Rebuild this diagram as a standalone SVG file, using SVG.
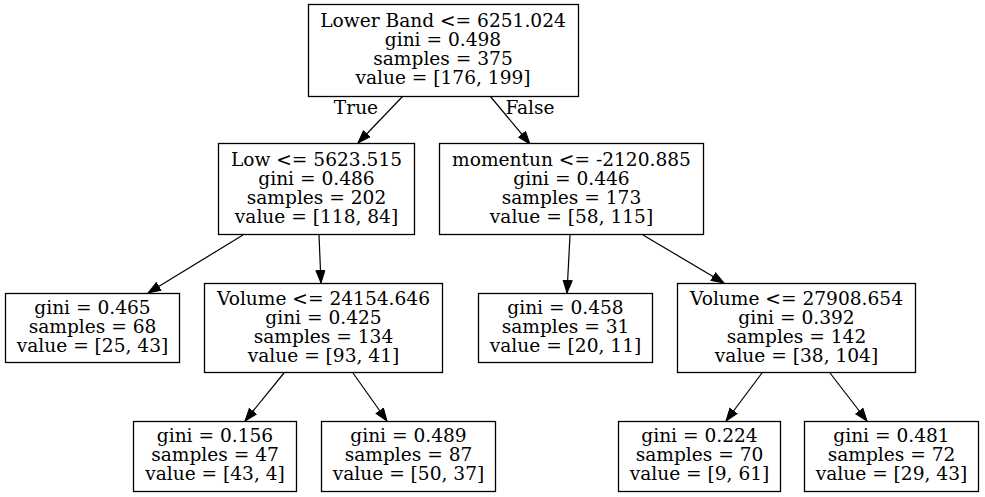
<svg xmlns="http://www.w3.org/2000/svg" width="985" height="497" viewBox="0 0 985 497">
<defs>
<marker id="ah" markerUnits="userSpaceOnUse" markerWidth="14" markerHeight="11" refX="13" refY="5" orient="auto"><path d="M0.5,0.5 L13,5 L0.5,9.5 z" fill="#000" stroke="#000" stroke-width="1"/></marker>
</defs>
<style>
rect{fill:#fff;stroke:#000;stroke-width:1.3}
text{font-family:"DejaVu Serif",serif;font-size:18.6px;text-anchor:middle;fill:#000}
.e line{stroke:#000;stroke-width:1.2;marker-end:url(#ah)}
</style>
<rect x="0" y="0" width="985" height="497" style="stroke:none"/>
<g class="e" id="edges">
<line x1="403" y1="96" x2="358" y2="143"/>
<line x1="490" y1="96" x2="530" y2="144"/>
<line x1="243" y1="235" x2="148" y2="293"/>
<line x1="319" y1="235" x2="321" y2="283"/>
<line x1="570" y1="235" x2="567" y2="293"/>
<line x1="643" y1="235" x2="724" y2="283"/>
<line x1="284" y1="373" x2="245" y2="421"/>
<line x1="353" y1="373" x2="387" y2="421"/>
<line x1="762" y1="373" x2="726" y2="421"/>
<line x1="830" y1="373" x2="867" y2="421"/>
<text x="356" y="114">True</text>
<text x="530" y="114">False</text>
</g>
<g id="n0"><rect x="308.5" y="4.5" width="270" height="92"/><text x="443" y="26.5">Lower Band &lt;= 6251.024</text><text x="443" y="45.5">gini = 0.498</text><text x="443" y="64.5">samples = 375</text><text x="443" y="83.5">value = [176, 199]</text></g>
<g id="n1"><rect x="218.5" y="143.5" width="196" height="91"/><text x="316.5" y="166">Low &lt;= 5623.515</text><text x="316.5" y="185">gini = 0.486</text><text x="316.5" y="204">samples = 202</text><text x="316.5" y="223">value = [118, 84]</text></g>
<g id="n6"><rect x="439.5" y="143.5" width="264" height="91"/><text x="571.5" y="166">momentun &lt;= -2120.885</text><text x="571.5" y="185">gini = 0.446</text><text x="571.5" y="204">samples = 173</text><text x="571.5" y="223">value = [58, 115]</text></g>
<g id="n2"><rect x="5.5" y="293.5" width="174" height="69"/><text x="92.5" y="313.5">gini = 0.465</text><text x="92.5" y="332.5">samples = 68</text><text x="92.5" y="351.5">value = [25, 43]</text></g>
<g id="n3"><rect x="204.5" y="283.5" width="238" height="89"/><text x="323.5" y="304.5">Volume &lt;= 24154.646</text><text x="323.5" y="323.5">gini = 0.425</text><text x="323.5" y="342.5">samples = 134</text><text x="323.5" y="361.5">value = [93, 41]</text></g>
<g id="n7"><rect x="478.5" y="293.5" width="174" height="69"/><text x="565.5" y="313.5">gini = 0.458</text><text x="565.5" y="332.5">samples = 31</text><text x="565.5" y="351.5">value = [20, 11]</text></g>
<g id="n8"><rect x="677.5" y="283.5" width="238" height="89"/><text x="796.5" y="304.5">Volume &lt;= 27908.654</text><text x="796.5" y="323.5">gini = 0.392</text><text x="796.5" y="342.5">samples = 142</text><text x="796.5" y="361.5">value = [38, 104]</text></g>
<g id="n4"><rect x="133.5" y="421.5" width="163" height="70"/><text x="215" y="442">gini = 0.156</text><text x="215" y="461">samples = 47</text><text x="215" y="480">value = [43, 4]</text></g>
<g id="n5"><rect x="321.5" y="421.5" width="174" height="70"/><text x="408.5" y="442">gini = 0.489</text><text x="408.5" y="461">samples = 87</text><text x="408.5" y="480">value = [50, 37]</text></g>
<g id="n9"><rect x="618.5" y="421.5" width="162" height="70"/><text x="699.5" y="442">gini = 0.224</text><text x="699.5" y="461">samples = 70</text><text x="699.5" y="480">value = [9, 61]</text></g>
<g id="n10"><rect x="804.5" y="421.5" width="174" height="70"/><text x="891.5" y="442">gini = 0.481</text><text x="891.5" y="461">samples = 72</text><text x="891.5" y="480">value = [29, 43]</text></g>
</svg>
